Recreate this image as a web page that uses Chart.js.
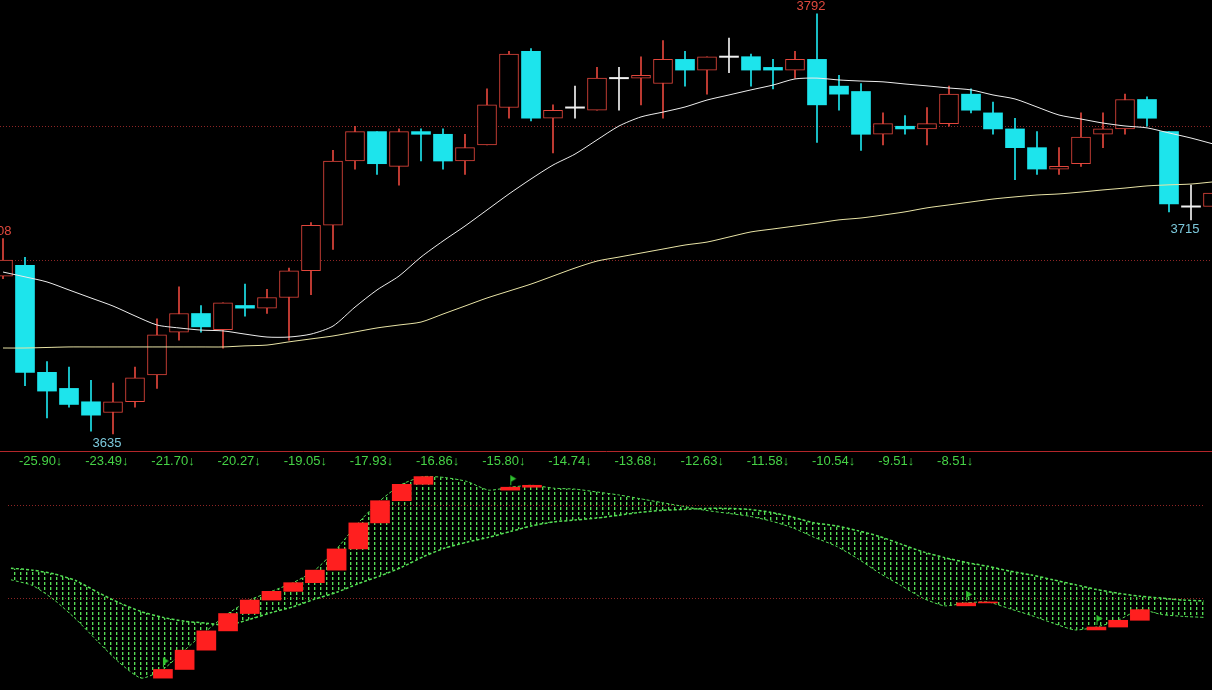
<!DOCTYPE html>
<html>
<head>
<meta charset="utf-8">
<script src="https://cdn.jsdelivr.net/npm/chart.js@4.4.1/dist/chart.umd.min.js"></script>
<style>
  html, body { margin: 0; padding: 0; background: #000; overflow: hidden; }
  #wrap { position: relative; width: 1212px; height: 690px; }
  canvas { position: absolute; left: 0; display: block; }
  #priceChart { top: 0; }
  #ribbonChart { top: 452px; }
</style>
</head>
<body>
<div id="wrap">
  <canvas id="priceChart" width="1212" height="452"></canvas>
  <canvas id="ribbonChart" width="1212" height="238"></canvas>
</div>
<script>
// --- candles (one per bar, left to right) ---
const openP  = [3694, 3698, 3658, 3652, 3647, 3643, 3647, 3657, 3673, 3680, 3674, 3683, 3682, 3686, 3696, 3713, 3737, 3748, 3735, 3748,
                3747, 3737, 3743, 3757, 3778, 3753, 3757, 3756, 3768, 3768, 3766, 3775, 3771, 3776, 3776, 3772, 3771, 3775, 3765, 3763,
                3747, 3750, 3749, 3751, 3762, 3755, 3749, 3742, 3734, 3736, 3747, 3749, 3760, 3748, 3720, 3720];
const highP  = [3708, 3701, 3662, 3660, 3655, 3654, 3660, 3678, 3690, 3683, 3684, 3691, 3689, 3697, 3714, 3741, 3750, 3748, 3749, 3749,
                3749, 3747, 3764, 3778, 3779, 3758, 3765, 3772, 3772, 3776, 3782, 3778, 3776, 3783, 3777, 3775, 3778, 3792, 3769, 3766,
                3755, 3754, 3757, 3765, 3764, 3759, 3753, 3748, 3742, 3755, 3755, 3762, 3761, 3748, 3728, 3727];
const lowP   = [3693, 3653, 3641, 3645, 3636, 3635, 3645, 3652, 3670, 3673, 3667, 3679, 3680, 3670, 3687, 3704, 3734, 3732, 3728, 3737,
                3734, 3732, 3743, 3753, 3752, 3740, 3753, 3756, 3756, 3758, 3753, 3765, 3762, 3770, 3765, 3764, 3768, 3744, 3756, 3741,
                3743, 3747, 3743, 3750, 3755, 3747, 3730, 3732, 3732, 3735, 3742, 3747, 3750, 3718, 3715, 3719];
const closeP = [3700, 3658, 3651, 3646, 3642, 3647, 3656, 3672, 3680, 3675, 3684, 3682, 3686, 3696, 3713, 3737, 3748, 3736, 3748, 3747,
                3737, 3742, 3758, 3777, 3753, 3756, 3757, 3768, 3768, 3769, 3775, 3771, 3776, 3776, 3771, 3771, 3775, 3758, 3762, 3747,
                3751, 3749, 3751, 3762, 3756, 3749, 3742, 3734, 3735, 3746, 3749, 3760, 3753, 3721, 3720, 3725];

// --- moving averages ---
const maShort = [3695.5, 3693.7, 3691.8, 3688.8, 3685.8, 3682.8, 3679.1, 3675.7, 3674.6, 3673.8, 3673.5, 3672.3, 3671.2, 3671.2,
                 3672.3, 3675.3, 3682.4, 3688.8, 3694.0, 3701.1, 3707.1, 3712.7, 3718.7, 3724.7, 3730.3, 3735.5, 3739.6, 3744.9,
                 3750.1, 3753.5, 3755.3, 3757.2, 3759.8, 3761.7, 3763.6, 3765.4, 3767.7, 3768.0, 3767.3, 3766.9, 3766.6, 3765.8,
                 3765.1, 3764.3, 3763.6, 3761.7, 3760.2, 3757.2, 3754.2, 3752.7, 3751.2, 3750.1, 3749.4, 3747.5, 3745.6, 3743.4];
const maLong  = [3667.1, 3667.1, 3667.3, 3667.5, 3667.5, 3667.5, 3667.5, 3667.5, 3667.5, 3667.5, 3667.5, 3667.9, 3668.2, 3669.4,
                 3670.5, 3671.6, 3673.1, 3674.6, 3675.7, 3676.8, 3679.8, 3682.8, 3685.8, 3688.4, 3691.0, 3694.0, 3697.0, 3699.6,
                 3701.1, 3702.6, 3704.1, 3705.6, 3706.7, 3708.6, 3710.5, 3711.6, 3712.7, 3713.8, 3715.0, 3715.7, 3716.8, 3718.0,
                 3719.5, 3720.6, 3721.7, 3722.8, 3723.6, 3724.3, 3724.7, 3725.4, 3726.2, 3726.9, 3727.7, 3728.1, 3728.4, 3729.2];

const priceGrid = [3700, 3750];
// bars whose high / low gets a price tag
const extremeMarks = [
  { index: 0, side: 'high' },
  { index: 5, side: 'low' },
  { index: 37, side: 'high' },
  { index: 54, side: 'low' }
];

// --- lower indicator: ribbon edges ---
const ribbonFast = [9.5, 6.5, -1, -11, -22.5, -33.5, -41.5, -37, -27, -17, -8, -1, 3.5, 8, 14.5, 25.5, 39, 50.5, 59, 63,
                    62.5, 60.5, 56, 57.5, 58.5, 57, 56.5, 55, 53.5, 51.5, 49.5, 47.5, 45.5, 44, 42.5, 40, 36.5, 31.5, 27, 20.5,
                    13, 6.5, 0, -4, -2.5, -2, -5.5, -9, -13, -16.5, -15, -11.5, -6, -8.5, -9.5, -10];
const ribbonSlow = [15.5, 14.5, 12.5, 9, 3, -2.5, -7, -10, -12, -13, -14, -11, -7.5, -4.5, -0.5, 3, 7.5, 11.5, 16, 21.5,
                    26, 29, 31.5, 34.5, 37.5, 39.5, 40.5, 41.5, 43, 44.5, 45.5, 46, 46.5, 46.5, 46, 44.5, 42, 39, 37.5, 35,
                    32, 28, 24, 21, 18.5, 16.5, 14, 12, 9.5, 7, 4.5, 2.5, 1, 0, -1, -1.5];
const ribbonGrid = [0, 48];
const stripLabels = ['-25.90↓', '-23.49↓', '-21.70↓', '-20.27↓', '-19.05↓', '-17.93↓', '-16.86↓', '-15.80↓',
                     '-14.74↓', '-13.68↓', '-12.63↓', '-11.58↓', '-10.54↓', '-9.51↓', '-8.51↓'];

// --- look ---
const COLORS = {
  up: '#e2463c',
  down: '#1de4ec',
  flat: '#f2f2f2',
  maShort: '#ededed',
  maLong: '#e9e4a6',
  grid: '#8e2525',
  separator: '#b3262a',
  strip: '#46d346',
  ribbon: '#55df55',
  box: '#ff1f1f',
  flag: '#2fc22f',
  highTag: '#e0493e',
  lowTag: '#7cc9dc'
};
const FONT = '"Liberation Sans", Arial, sans-serif';
const BODY_W = 19;
const X_MIN = -3 / 22;
const X_MAX = 1209 / 22;

const idx = openP.map((_, i) => i);
const kind = idx.map(i => closeP[i] > openP[i] ? 'up' : (closeP[i] < openP[i] ? 'down' : 'flat'));
const kindColor = idx.map(i => COLORS[kind[i]]);

const hiddenY = (min, max, grid) => ({
  type: 'linear', min, max,
  afterFit: s => { s.width = 0; },
  afterBuildTicks: s => { s.ticks = grid.map(v => ({ value: v })); },
  ticks: { display: false },
  grid: { color: COLORS.grid, drawTicks: false },
  border: { display: false, dash: [1, 2] }
});

// --- price panel ---
const priceTags = {
  id: 'priceTags',
  afterDatasetsDraw(chart) {
    const { ctx, scales: { x, y } } = chart;
    ctx.save();
    ctx.font = '13px ' + FONT;
    ctx.textAlign = 'center';
    extremeMarks.forEach(m => {
      const px = x.getPixelForValue(m.index) - 6;
      if (m.side === 'high') {
        ctx.fillStyle = COLORS.highTag;
        ctx.textBaseline = 'bottom';
        ctx.fillText(String(highP[m.index]), px, y.getPixelForValue(highP[m.index]) - 1);
      } else {
        ctx.fillStyle = COLORS.lowTag;
        ctx.textBaseline = 'top';
        ctx.fillText(String(lowP[m.index]), px, y.getPixelForValue(lowP[m.index]) + 3);
      }
    });
    ctx.restore();
  }
};

new Chart(document.getElementById('priceChart'), {
  type: 'bar',
  data: {
    datasets: [
      {
        label: 'wick',
        data: idx.map(i => ({ x: i, y: [lowP[i], highP[i]] })),
        backgroundColor: kindColor,
        barThickness: 1,
        grouped: false,
        order: 3
      },
      {
        label: 'body',
        data: idx.map(i => ({ x: i, y: kind[i] === 'flat' ? [openP[i] - 0.25, openP[i] + 0.25] : [openP[i], closeP[i]] })),
        backgroundColor: idx.map(i => kind[i] === 'up' ? '#000' : kindColor[i]),
        borderColor: kindColor,
        borderWidth: idx.map(i => kind[i] === 'up' ? 1 : 0),
        borderSkipped: false,
        barThickness: BODY_W,
        grouped: false,
        order: 2
      },
      {
        type: 'line',
        label: 'MA short',
        data: idx.map(i => ({ x: i, y: maShort[i] })),
        borderColor: COLORS.maShort,
        borderWidth: 1,
        pointRadius: 0,
        tension: 0.25,
        order: 1
      },
      {
        type: 'line',
        label: 'MA long',
        data: idx.map(i => ({ x: i, y: maLong[i] })),
        borderColor: COLORS.maLong,
        borderWidth: 1,
        pointRadius: 0,
        tension: 0.25,
        order: 1
      }
    ]
  },
  options: {
    responsive: false,
    animation: false,
    events: [],
    layout: { padding: 0 },
    plugins: { legend: { display: false }, tooltip: { enabled: false } },
    scales: {
      x: {
        type: 'linear', min: X_MIN, max: X_MAX, offset: false,
        afterFit: s => { s.height = 1; },
        ticks: { display: false },
        grid: { display: false, drawTicks: false },
        border: { display: true, color: COLORS.separator, width: 1 }
      },
      y: hiddenY(3628.6, 3797.2, priceGrid)
    }
  },
  plugins: [priceTags]
});

// --- indicator panel ---
const ribbonCanvas = document.getElementById('ribbonChart');
const tile = document.createElement('canvas');
tile.width = 6; tile.height = 5;
const tctx = tile.getContext('2d');
tctx.fillStyle = COLORS.ribbon;
tctx.fillRect(2, 0, 1, 3);
tctx.globalAlpha = 0.35;
tctx.fillRect(3, 0, 1, 3);
const ribbonPattern = ribbonCanvas.getContext('2d').createPattern(tile, 'repeat');

// small green flag, drawn above its point
const flag = document.createElement('canvas');
flag.width = 14; flag.height = 26;
const fctx = flag.getContext('2d');
fctx.fillStyle = COLORS.flag;
fctx.fillRect(7, 1, 1, 10);
fctx.beginPath();
fctx.moveTo(7, 1); fctx.lineTo(13, 4.5); fctx.lineTo(7, 8); fctx.closePath();
fctx.fill();

const rising = idx.map(i => i > 0 && ribbonFast[i] > ribbonFast[i - 1]);

const stripPlugin = {
  id: 'strip',
  afterDraw(chart) {
    const ctx = chart.ctx;
    ctx.save();
    ctx.font = '13px ' + FONT;
    ctx.fillStyle = COLORS.strip;
    ctx.textBaseline = 'middle';
    let x = 19;
    stripLabels.forEach(t => {
      ctx.fillText(t, x, 9);
      x += ctx.measureText(t).width + 22.8;
    });
    ctx.restore();
  }
};

new Chart(ribbonCanvas, {
  type: 'bar',
  data: {
    datasets: [
      {
        type: 'line',
        label: 'fast',
        data: idx.map(i => ({ x: i, y: ribbonFast[i] })),
        borderColor: COLORS.ribbon,
        borderWidth: 1,
        borderDash: [3, 2],
        pointRadius: 0,
        tension: 0.2,
        fill: false,
        order: 3
      },
      {
        type: 'line',
        label: 'slow',
        data: idx.map(i => ({ x: i, y: ribbonSlow[i] })),
        borderColor: COLORS.ribbon,
        borderWidth: 1.5,
        borderDash: [3, 2],
        backgroundColor: ribbonPattern,
        pointRadius: 0,
        tension: 0.2,
        fill: '-1',
        order: 3
      },
      {
        label: 'rise',
        data: idx.map(i => ({ x: i, y: rising[i] ? [ribbonFast[i - 1], ribbonFast[i]] : null })),
        backgroundColor: COLORS.box,
        barThickness: BODY_W,
        grouped: false,
        order: 2
      },
      {
        type: 'line',
        label: 'turn',
        data: idx.filter(i => rising[i] && !rising[i - 1]).map(i => ({ x: i, y: ribbonFast[i] })),
        showLine: false,
        pointStyle: flag,
        pointRadius: 7,
        order: 1
      }
    ]
  },
  options: {
    responsive: false,
    animation: false,
    events: [],
    layout: { padding: { top: 14 } },
    plugins: { legend: { display: false }, tooltip: { enabled: false } },
    scales: {
      x: { type: 'linear', min: X_MIN, max: X_MAX, offset: false, display: false },
      y: hiddenY(-43.5, 68.5, ribbonGrid)
    }
  },
  plugins: [stripPlugin]
});
</script>
</body>
</html>
